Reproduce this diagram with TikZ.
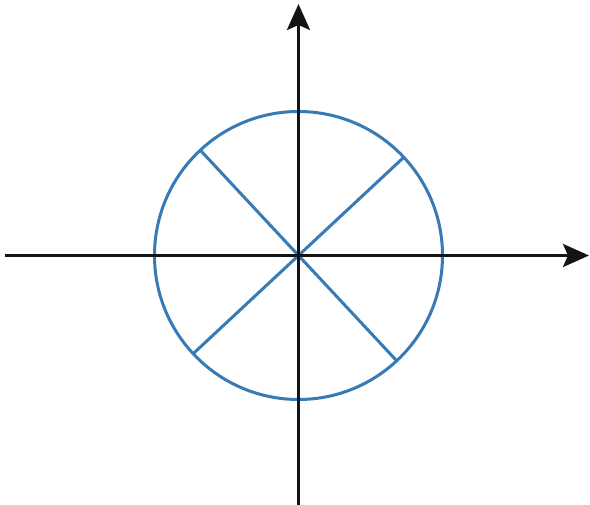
\documentclass[tikz,border=0pt]{standalone}
\usetikzlibrary{arrows.meta}
\definecolor{circblue}{RGB}{55,122,182}
\definecolor{axisblack}{RGB}{20,20,20}
\tikzset{
  axisline/.style={draw=axisblack, line width=3pt, -{Stealth[length=26pt,width=23pt,inset=5pt]}},
  ring/.style={circle, draw=circblue, line width=3pt, minimum size=288pt, inner sep=0pt, outer sep=0pt},
  diag/.style={draw=circblue, line width=3pt}
}
\begin{document}
\begin{tikzpicture}[x=1pt,y=-1pt]
  \useasboundingbox[fill=white] (0,0) rectangle (590,505);
  \coordinate (O) at (298.5,255.5);
  \coordinate (xl) at (5,255.5);
  \coordinate (xr) at (589,255.5);
  \coordinate (yb) at (298.5,505);
  \coordinate (yt) at (298.5,4);
  \node[ring] (c) at (O) {};
  \draw[diag] (c.43) -- (c.223);
  \draw[diag] (c.133) -- (c.313);
  \draw[axisline] (xl) -- (xr);
  \draw[axisline] (yb) -- (yt);
\end{tikzpicture}
\end{document}
